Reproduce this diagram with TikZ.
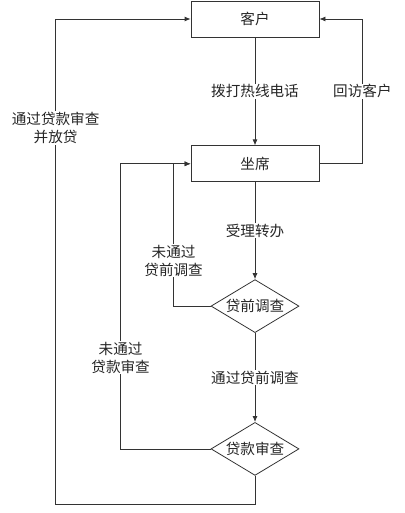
\documentclass[tikz,border=0pt]{standalone}
\usepackage{fontspec}
\newfontfamily\cjk{Noto Sans CJK SC}
\usepackage{tikz}
\usetikzlibrary{positioning,calc,shapes.geometric,arrows.meta}

\begin{document}
\begin{tikzpicture}[line width=0.8pt,draw=black!80,font=\cjk\fontsize{14.6}{18}\selectfont]
  \tikzstyle{box} = [draw=black!80,fill=white,text=black!85,minimum width=128pt,minimum height=36pt]
  \tikzstyle{check} = [draw=black!80,fill=white,text=black!85,shape=diamond,aspect=1.66,minimum width=88pt,minimum height=53pt,inner sep=0pt]
  \tikzstyle{flow} = [draw=black!80,-{Latex[length=6pt,width=5pt]}]
  \tikzstyle{lbl} = [fill=white,text=black!85,align=center,inner sep=1pt]
  %
  \useasboundingbox (0,0) rectangle (404pt,-513pt);
  % Main column.
  \node[box] (kehu) at (255pt,-19pt) {客户};
  \node[box, below=108pt of kehu] (zuoxi) {坐席};
  \node[check, below=97pt of zuoxi] (dqdc) {贷前调查};
  \node[check, below=89pt of dqdc] (dksc) {贷款审查};
  % Turning points of the loops.
  \coordinate (leftx) at ($(kehu.west)+(-135pt,0)$);
  \coordinate (rightx) at ($(zuoxi.east)+(43pt,0)$);
  \coordinate (inner1) at ($(zuoxi.west)+(-17pt,0)$);
  \coordinate (inner2) at ($(zuoxi.west)+(-70pt,0)$);
  \coordinate (bottom) at ($(dksc.south)+(0,-29pt)$);
  % Forward flow.
  \draw[flow] (kehu) -- node[lbl] {拨打热线电话} (zuoxi);
  \draw[flow] (zuoxi) -- node[lbl] {受理转办} (dqdc);
  \draw[flow] (dqdc) -- node[lbl] {通过贷前调查} (dksc);
  % Loops back.
  \draw[flow] (zuoxi.east) -- (rightx) |- node[lbl,pos=0.25] {回访客户} (kehu.east);
  \draw[flow] (dqdc.west) -| node[lbl,pos=0.66] {未通过\\贷前调查} (inner1) -- (zuoxi.west);
  \draw[flow] (dksc.west) -| node[lbl,pos=0.66] {未通过\\贷款审查} (inner2) -- (zuoxi.west);
  \draw[flow] (dksc.south) -- (bottom) -| (leftx) -- (kehu.west);
  \node[lbl] (fangdai) at ($(leftx)+(0,-109pt)$) {通过贷款审查\\并放贷};
\end{tikzpicture}
\end{document}
